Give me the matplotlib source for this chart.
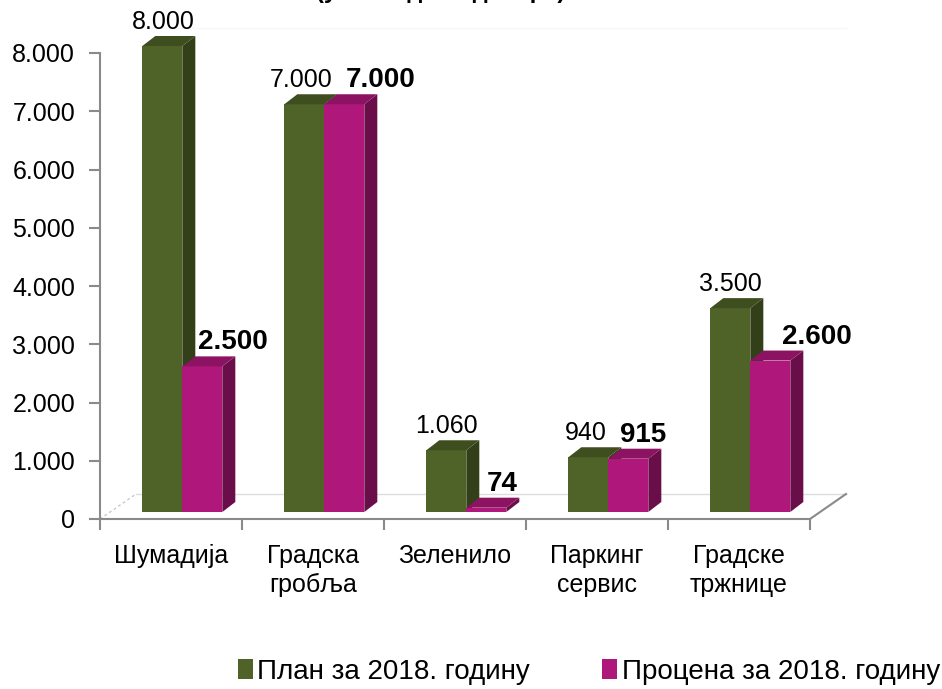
import matplotlib
matplotlib.use('Agg')
import matplotlib.pyplot as plt
from matplotlib.patches import Polygon
from matplotlib.transforms import offset_copy

plt.rcParams['font.family'] = ['Liberation Sans', 'DejaVu Sans']

# data
categories = ['Шумадија', 'Градска\nгробља', 'Зеленило', 'Паркинг\nсервис', 'Градске\nтржнице']
plan_2018 = [8000, 7000, 1060, 940, 3500]
procena_2018 = [2500, 7000, 74, 915, 2600]
yticks = [0, 1000, 2000, 3000, 4000, 5000, 6000, 7000, 8000]
ytick_labels = ['0', '1.000', '2.000', '3.000', '4.000', '5.000', '6.000', '7.000', '8.000']
series_names = ['План за 2018. годину', 'Процена за 2018. годину']

def fmt(v):
    return '{:,}'.format(v).replace(',', '.')

green = ('#4F6228', '#323F18', '#3F4E1F')
magenta = ('#B0177A', '#6A0E4A', '#8C1262')
axis_gray = '#8A8A8A'

fig = plt.figure(figsize=(9.42, 6.89), dpi=100)
ax = fig.add_axes([100/942, 170/689, 710/942, 466/689])
ax.set_xlim(0, 5)
ax.set_ylim(0, 8000)

# pixel -> data conversions (3D look)
px_x = 710 / 5
px_y = 466 / 8000
depth_x = 13 / px_x
depth_y = 10 / px_y
base = 7 / px_y
w = 40 / px_x
floor_x = 36 / px_x
floor_y = 25 / px_y

# floor / walls
ax.plot([0, floor_x], [0, floor_y], color='#C8C8C8', lw=1, ls=(0, (2, 2)), clip_on=False, zorder=1)
ax.plot([floor_x, 5 + floor_x], [floor_y, floor_y], color='#DDDDDD', lw=1, clip_on=False, zorder=1)
ax.plot([5, 5 + floor_x], [0, floor_y], color=axis_gray, lw=1.5, clip_on=False, zorder=1)
ax.plot([floor_x, 5 + floor_x], [floor_y + 8000, floor_y + 8000], color='#F7F7F7', lw=1, clip_on=False, zorder=1)

x_green = [i + 0.298 for i in range(len(categories))]
x_mag = [x + w for x in x_green]
bars_g = ax.bar(x_green, plan_2018, width=w, bottom=base, align='edge',
                color=green[0], label=series_names[0], linewidth=0, clip_on=False)
bars_m = ax.bar(x_mag, procena_2018, width=w, bottom=base, align='edge',
                color=magenta[0], label=series_names[1], linewidth=0, clip_on=False)

for i in range(len(categories)):
    for k, (bars, cols) in enumerate([(bars_g, green), (bars_m, magenta)]):
        r = bars[i]
        z = 3 + i + k * 0.5
        r.set_zorder(z)
        x0 = r.get_x()
        x1 = x0 + r.get_width()
        y0 = r.get_y()
        y1 = y0 + r.get_height()
        side = Polygon([(x1, y0), (x1 + depth_x, y0 + depth_y), (x1 + depth_x, y1 + depth_y), (x1, y1)],
                       closed=True, facecolor=cols[1], edgecolor='none', zorder=z + 0.1, clip_on=False)
        top = Polygon([(x0, y1), (x1, y1), (x1 + depth_x, y1 + depth_y), (x0 + depth_x, y1 + depth_y)],
                      closed=True, facecolor=cols[2], edgecolor='none', zorder=z + 0.2, clip_on=False)
        ax.add_patch(side)
        ax.add_patch(top)

# value labels
g_dx = [1, -3, 0, -3, 0]
m_dx = [31, 36, 16, 15, 47]
for i in range(len(categories)):
    r = bars_g[i]
    tr = offset_copy(ax.transData, fig=fig, x=g_dx[i], y=7, units='dots')
    ax.text(r.get_x() + r.get_width() / 2, r.get_y() + r.get_height() + depth_y, fmt(plan_2018[i]),
            transform=tr, ha='center', va='baseline', fontsize=18, color='black', zorder=20, clip_on=False)
    r = bars_m[i]
    tr = offset_copy(ax.transData, fig=fig, x=m_dx[i], y=7, units='dots')
    ax.text(r.get_x() + r.get_width() / 2, r.get_y() + r.get_height() + depth_y, fmt(procena_2018[i]),
            transform=tr, ha='center', va='baseline', fontsize=20, fontweight='bold', color='black',
            zorder=20, clip_on=False)

# axes styling
for s in ['top', 'right']:
    ax.spines[s].set_visible(False)
for s in ['left', 'bottom']:
    ax.spines[s].set_color(axis_gray)
    ax.spines[s].set_linewidth(1.5)

ax.set_yticks(yticks)
ax.set_yticklabels(ytick_labels, fontsize=18)
ax.tick_params(axis='y', direction='out', length=8, width=1.5, color=axis_gray, pad=10)

ax.set_xticks(range(6))
ax.set_xticklabels([])
ax.tick_params(axis='x', which='major', direction='out', length=8, width=1.5, color=axis_gray)
ax.set_xticks([i + 0.5 for i in range(len(categories))], minor=True)
ax.set_xticklabels(categories, minor=True, fontsize=18, linespacing=1.25)
ax.tick_params(axis='x', which='minor', length=0, pad=18)

# title, mostly above the top edge as in the source image
fig.text(0.468, 1.003, '(у хиљадама динара)', ha='center', va='baseline',
         fontsize=17, fontweight='bold')

fig.legend(handles=[bars_g, bars_m], loc='center', bbox_to_anchor=(0.625, 0.025),
           ncol=2, frameon=False, fontsize=20, handlelength=0.55, handleheight=0.7,
           handletextpad=0.15, columnspacing=2.6, borderpad=0)

fig.savefig('out.png', dpi=100)
